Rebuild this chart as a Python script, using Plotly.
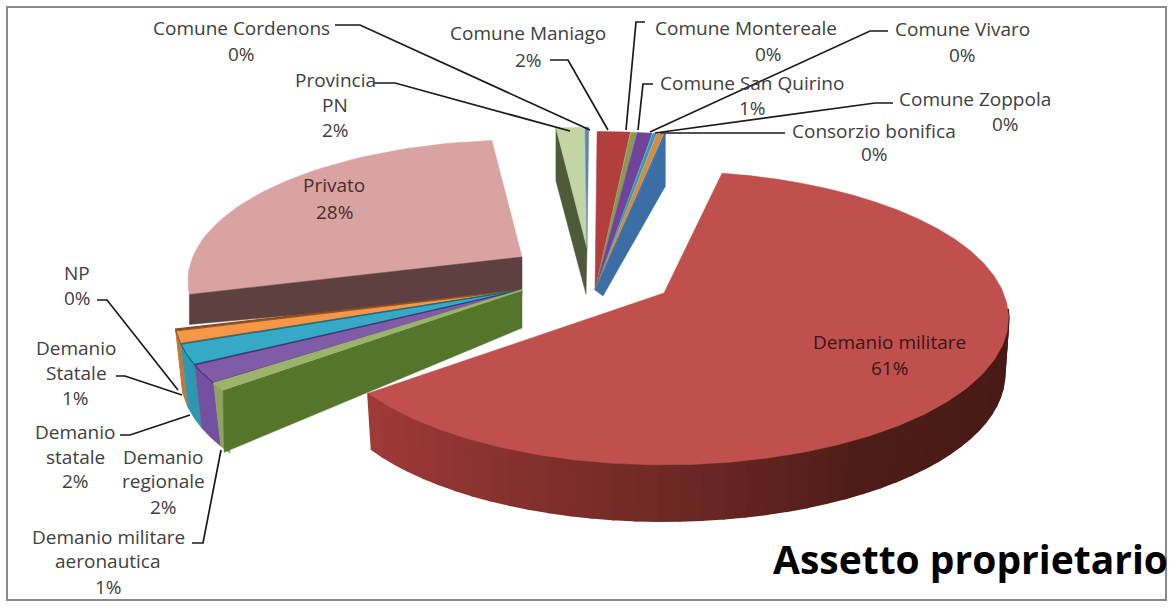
import math
import plotly.graph_objects as go

# ---- data ----
categories = ["Demanio militare", "Demanio militare\naeronautica", "Demanio\nregionale",
              "Demanio\nstatale", "Demanio\nStatale", "NP", "Privato", "Provincia\nPN",
              "Comune Cordenons", "Comune Maniago", "Comune Montereale", "Comune San Quirino",
              "Comune Vivaro", "Comune Zoppola", "Consorzio bonifica"]
values = [61.0, 0.8, 2.0, 2.2, 1.4, 0.2, 27.5, 1.6, 0.2, 1.5, 0.3, 0.7, 0.2, 0.3, 0.1]
percent_labels = ["61%", "1%", "2%", "2%", "1%", "0%", "28%", "2%", "0%", "2%", "0%", "1%", "0%", "0%", "0%"]
colors = ["#C0504D", "#9BB36A", "#7F5BA8", "#35A9C6", "#F79646", "#B5652A", "#D9A3A2", "#C3D5A4",
          "#5B84B8", "#B23F3C", "#8A9A4E", "#71449B", "#2F9DB8", "#D68A3C", "#3A6EA5"]
title_text = "Assetto proprietario"

# ---- projection / layout ----
R, K, P = 343.0, 142.7, 0.17
START = 11.5

# explode anchor and stretch per slice group
GROUPS = {
    "red": dict(ax=664, ay=293, kx=0.99, ky=1.0),
    "left": dict(ax=522, ay=290, kx=1.0, ky=1.0),
    "priv": dict(ax=522, ay=257, kx=0.96, ky=0.96),
    "prov": dict(ax=587, ay=248, kx=0.99, ky=0.99),
    "top": dict(ax=595, ay=290, kx=1.2, ky=1.3),
}
slice_group = ["red", "left", "left", "left", "left", "left", "priv", "prov",
               "prov", "top", "top", "top", "top", "top", "top"]


def proj(g, deg):
    a = math.radians(deg)
    u, v = math.sin(a), math.cos(a)
    s = 1 / (1 + P * v)
    return g["ax"] + R * u * s * g["kx"], g["ay"] - K * v * s * g["ky"]


total = sum(values)
angles = []
acc = START
for val in values:
    angles.append((acc, acc + val / total * 360))
    acc += val / total * 360

fig = go.Figure()


def poly(xs, ys, fill, line=None, lw=0):
    fig.add_trace(go.Scatter(x=xs, y=ys, mode="lines", fill="toself", fillcolor=fill,
                             line=dict(color=line or fill, width=lw if lw else 0.5),
                             hoverinfo="skip", showlegend=False))


def arc(i, n=40):
    g = GROUPS[slice_group[i]]
    a0, a1 = angles[i]
    return [proj(g, a0 + (a1 - a0) * k / n) for k in range(n + 1)]


def top_face(i, line=None, lw=0):
    g = GROUPS[slice_group[i]]
    pts = [(g["ax"], g["ay"])] + arc(i) + [(g["ax"], g["ay"])]
    poly([p[0] for p in pts], [p[1] for p in pts], colors[i], line, lw)


def cut_face(i, side, fill, h_apex, h_rim, dx_apex=0, dx_rim=0):
    g = GROUPS[slice_group[i]]
    deg = angles[i][0] if side == "start" else angles[i][1]
    r = proj(g, deg)
    xs = [g["ax"], r[0], r[0] + dx_rim, g["ax"] + dx_apex, g["ax"]]
    ys = [g["ay"], r[1], r[1] + h_rim, g["ay"] + h_apex, g["ay"]]
    poly(xs, ys, fill)


def rim_wall(i, fill, dx, h):
    pts = arc(i, 12)
    bottom = [(p[0] + dx, p[1] + h) for p in pts][::-1]
    all_pts = pts + bottom + [pts[0]]
    poly([p[0] for p in all_pts], [p[1] for p in all_pts], fill)


# Privato (back)
top_face(6)
cut_face(6, "start", "#5E4040", 38, 30)

# left cluster
stat_up, stat_lo, reg, aer, np_i = 4, 3, 2, 1, 5
for i, wall in [(np_i, "#B5652A"), (stat_up, "#C9762F"), (stat_lo, "#2E97B2"), (reg, "#7450A0"), (aer, "#8DA35E")]:
    rim_wall(i, wall, 7, 63)
for i, edge in [(np_i, "#8A4A1C"), (stat_up, "#8A5A2A"), (stat_lo, "#0F6E86"), (reg, "#4A3070")]:
    top_face(i, edge, 1.2)
cut_face(aer, "start", "#55752A", 38, 62, 0, 1)
top_face(aer, "#9BB36A", 1.5)

# top cluster
cut_face(7, "start", "#4E5A3A", 46, 53, -1, 0)
top_face(7)
top_face(8)
cut_face(14, "end", "#3A6EA5", 6, 52, 8, 0)
for i in [9, 10, 11, 12, 13, 14]:
    top_face(i)

# main red slice: shaded rim then top
a0, a1 = angles[0]
n_seg = 70
g = GROUPS["red"]
shade = [(375, (158, 58, 55)), (560, (125, 46, 42)), (690, (108, 40, 36)), (850, (80, 30, 26)), (1008, (72, 26, 22))]


def shade_at(x):
    for (x0, c0), (x1, c1) in zip(shade, shade[1:]):
        if x <= x1:
            t = max(0, (x - x0) / (x1 - x0))
            return "rgb(%d,%d,%d)" % tuple(c0[j] + (c1[j] - c0[j]) * t for j in range(3))
    return "rgb(%d,%d,%d)" % shade[-1][1]


for k in range(n_seg):
    d0 = a0 + (a1 - a0) * k / n_seg
    d1 = a0 + (a1 - a0) * (k + 1) / n_seg
    if d1 < 98:
        continue
    p0 = proj(g, d0)
    p1 = proj(g, d1)
    f = 0.988
    b0 = (g["ax"] + (p0[0] - g["ax"]) * f, p0[1] + 56)
    b1 = (g["ax"] + (p1[0] - g["ax"]) * f, p1[1] + 56)
    col = shade_at((p0[0] + p1[0]) / 2)
    poly([p0[0], p1[0], b1[0], b0[0], p0[0]], [p0[1], p1[1], b1[1], b0[1], p0[1]], col, col, 2)
top_face(0)

# leader lines
leaders = [
    [(335, 25), (360, 25), (590, 130)],
    [(373, 83), (395, 83), (570, 131)],
    [(550, 60), (568, 60), (608, 130)],
    [(645, 22), (636, 22), (626, 130)],
    [(653, 84), (643, 84), (638, 130)],
    [(888, 31), (870, 31), (650, 132)],
    [(893, 103), (875, 103), (655, 133)],
    [(785, 133), (660, 133)],
    [(97, 300), (107, 300), (178, 390)],
    [(116, 376), (125, 376), (182, 395)],
    [(120, 435), (130, 435), (190, 415)],
    [(192, 543), (203, 543), (221, 450)],
]
for pts in leaders:
    fig.add_trace(go.Scatter(x=[p[0] for p in pts], y=[p[1] for p in pts], mode="lines",
                             line=dict(color="#1a1a1a", width=1.7), hoverinfo="skip", showlegend=False))

# label placement: slice index -> list of (x, y) for each text line, pct last
label_pos = {
    0: [(889, 342), (889, 368)],
    1: [(108, 537), (108, 561), (108, 587)],
    2: [(163, 457), (163, 481), (163, 507)],
    3: [(75, 432), (75, 457), (75, 481)],
    4: [(76, 348), (76, 373), (75, 398)],
    5: [(77, 273), (77, 298)],
    6: [(334, 185), (334, 212)],
    7: [(335, 80), (335, 105), (335, 130)],
    8: [(241, 28), (241, 54)],
    9: [(528, 33), (528, 60)],
    10: [(746, 28), (768, 54)],
    11: [(752, 83), (752, 108)],
    12: [(962, 29), (962, 55)],
    13: [(975, 99), (1005, 124)],
    14: [(874, 131), (874, 154)],
}
annotations = []
for i, posn in label_pos.items():
    lines = categories[i].split("\n") + [percent_labels[i]]
    col = "#3C1512" if i == 0 else ("#4A2C2B" if i == 6 else "#404040")
    for text, (x, y) in zip(lines, posn):
        annotations.append(dict(x=x, y=y, text=text, showarrow=False, xanchor="center", yanchor="middle",
                                font=dict(family="Open Sans", size=19, color=col)))
annotations.append(dict(x=970, y=558, text=title_text, showarrow=False, xanchor="center", yanchor="middle",
                        font=dict(family="Open Sans", size=39, color="#000000", weight=700)))

fig.update_layout(
    width=1172, height=608, margin=dict(l=0, r=0, t=0, b=0),
    paper_bgcolor="white", plot_bgcolor="white", showlegend=False,
    xaxis=dict(range=[0, 1172], visible=False, fixedrange=True),
    yaxis=dict(range=[608, 0], visible=False, fixedrange=True),
    annotations=annotations,
    shapes=[dict(type="rect", x0=7, y0=7, x1=1166, y1=600, line=dict(color="#8a8a8a", width=2), layer="below")],
)
fig.write_html("out.html", config={"displayModeBar": False},
               post_script="document.body.style.margin='0';")
